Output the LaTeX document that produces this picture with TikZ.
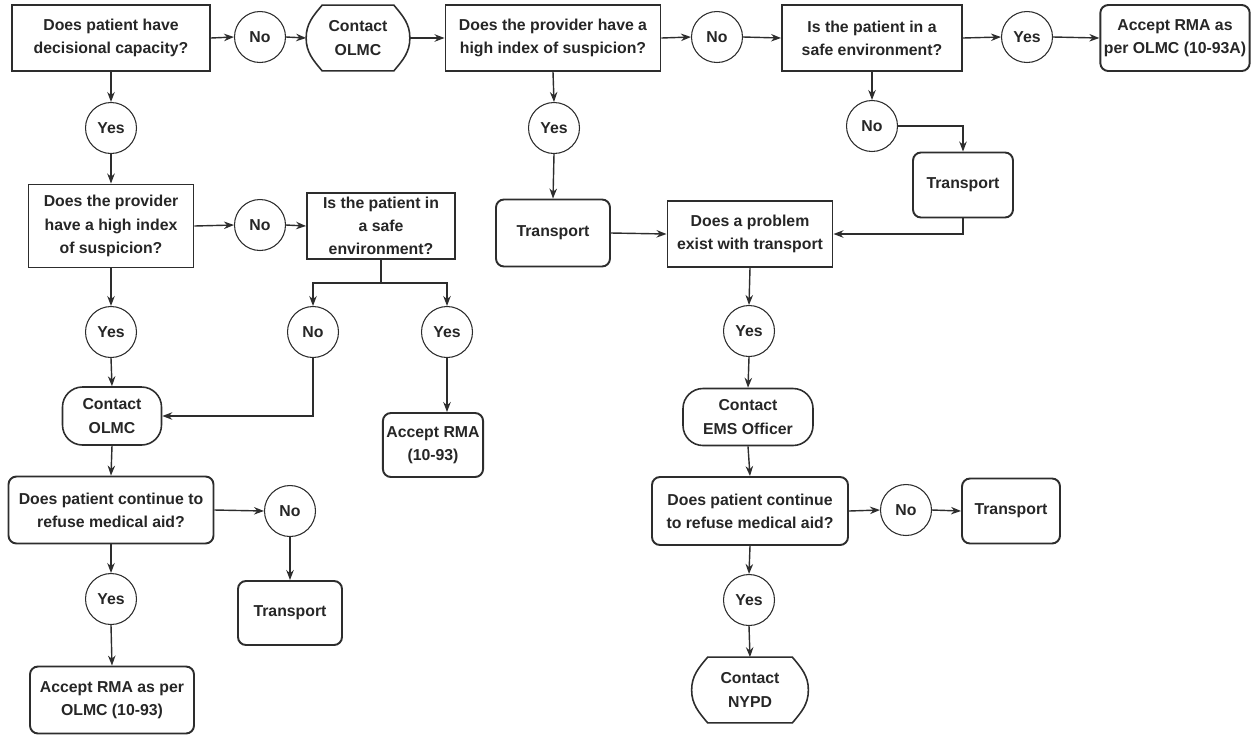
\documentclass[tikz,border=0pt]{standalone}
\usepackage{fontspec}
\setmainfont{Liberation Sans}
\usepackage{xcolor}
\usepackage{tikz}
\usetikzlibrary{arrows.meta}
\definecolor{inkgray}{RGB}{45,45,45}

% side-curved box (drawn round a borderless node)
\newcommand{\curvybox}[1]{%
  \draw [line width=0.9pt, inkgray]
    ([xshift=0.32cm]#1.north west) -- ([xshift=-0.32cm]#1.north east)
    to[out=-50, in=90] (#1.east)
    to[out=-90, in=50] ([xshift=-0.32cm]#1.south east)
    -- ([xshift=0.32cm]#1.south west)
    to[out=130, in=-90] (#1.west)
    to[out=90, in=-130] ([xshift=0.32cm]#1.north west) -- cycle;}

\begin{document}
\begin{tikzpicture}[x=0.02cm, y=-0.02cm,
    every node/.style={font=\bfseries\fontsize{9}{13.2}\selectfont, text=black!85, inner sep=2pt},
    wh/.style 2 args={minimum width=#1*0.02cm, minimum height=#2*0.02cm},
    box/.style={rectangle, draw=inkgray, line width=1.1pt, align=center},
    rbox/.style={box, rounded corners=0.16cm},
    pill/.style={box, line width=0.9pt, rounded corners=0.4cm},
    curvy/.style={rectangle, align=center},
    dot/.style={circle, draw=inkgray, line width=0.6pt, minimum size=1.02cm, inner sep=0pt},
    arrow/.style={line width=0.8pt, draw=inkgray, -{Stealth[length=2mm, width=1.5mm]}}]

\useasboundingbox (0,0) rectangle (1257,735);

% Top row
\node (q1)    [box, wh={198}{66}] at (111,38)  {Does patient have\\decisional capacity?};
\node (no1)   [dot]               at (260,37)  {No};
\node (olmc1) [curvy, wh={103}{65}] at (358,38) {Contact\\OLMC};
\node (q2)    [box, wh={215}{66}] at (553,38)  {Does the provider have a\\high index of suspicion?};
\node (no2)   [dot]               at (717,37)  {No};
\node (q3)    [box, wh={180}{66}] at (872,38)  {Is the patient in a\\safe environment?};
\node (yes3)  [dot]               at (1027,37) {Yes};
\node (acc3)  [rbox, wh={145}{66}] at (1175,38) {Accept RMA as\\per OLMC (10-93A)};

% Left branch
\node (yes1)  [dot]               at (111,128) {Yes};
\node (q4)    [box, wh={165}{83}] at (111,226) {Does the provider\\have a high index\\of suspicion?};
\node (no4)   [dot]               at (260,225) {No};
\node (q5)    [box, wh={148}{66}] at (381,226) {Is the patient in\\a safe\\environment?};
\coordinate (split) at (381,283);
\node (no5)   [dot]               at (313,332) {No};
\node (yes5)  [dot]               at (447,332) {Yes};
\node (acc5)  [rbox, wh={86}{64}] at (433,445) {Accept RMA\\(10-93)};
\node (yes4)  [dot]               at (111,332) {Yes};
\node (olmc2) [pill, wh={99}{58}] at (112,416) {Contact\\OLMC};
\node (q6)    [rbox, wh={205}{67}] at (111,510) {Does patient continue to\\refuse medical aid?};
\node (no6)   [dot]               at (290,511) {No};
\node (tr6)   [rbox, wh={104}{64}] at (290,613) {Transport};
\node (yes6)  [dot]               at (111,599) {Yes};
\node (acc6)  [rbox, wh={164}{67}] at (112,700) {Accept RMA as per\\OLMC (10-93)};

% Middle and right branch
\node (yes2)  [dot]               at (554,128) {Yes};
\node (tr2)   [rbox, wh={114}{67}] at (553,233) {Transport};
\node (q7)    [box, wh={165}{66}] at (750,234) {Does a problem\\exist with transport};
\node (no3)   [dot]               at (872,126) {No};
\node (tr3)   [rbox, wh={100}{65}] at (963,185) {Transport};
\node (yes7)  [dot]               at (749,331) {Yes};
\node (ems)   [pill, wh={130}{57}] at (748,417) {Contact\\EMS Officer};
\node (q8)    [rbox, wh={196}{68}] at (750,511) {Does patient continue\\to refuse medical aid?};
\node (no8)   [dot]               at (906,510) {No};
\node (tr8)   [rbox, wh={98}{65}] at (1011,511) {Transport};
\node (yes8)  [dot]               at (749,600) {Yes};
\node (nypd)  [curvy, wh={116}{65}] at (750,690) {Contact\\NYPD};

\curvybox{olmc1}
\curvybox{nypd}

% Arrows -- top row
\draw [arrow] (q1.east)   -- (no1.west);
\draw [arrow] (no1.east)  -- (olmc1.west);
\draw [arrow] (olmc1.east)-- (q2.west);
\draw [arrow] (q2.east)   -- (no2.west);
\draw [arrow] (no2.east)  -- (q3.west);
\draw [arrow] (q3.east)   -- (yes3.west);
\draw [arrow] (yes3.east) -- (acc3.west);
% Left branch
\draw [arrow] (q1.south)  -- (yes1.north);
\draw [arrow] (yes1.south)-- (q4.north);
\draw [arrow] (q4.east)   -- (no4.west);
\draw [arrow] (no4.east)  -- (q5.west);
\draw [line width=0.8pt, draw=inkgray] (q5.south) -- (split);
\draw [arrow] (split) -| (no5.north);
\draw [arrow] (split) -| (yes5.north);
\draw [arrow] (yes5.south) -- (yes5 |- acc5.north);
\draw [arrow] (no5.south) |- (olmc2.east);
\draw [arrow] (q4.south)  -- (yes4.north);
\draw [arrow] (yes4.south)-- (olmc2.north);
\draw [arrow] (olmc2.south) -- (q6.north);
\draw [arrow] (q6.east)   -- (no6.west);
\draw [arrow] (no6.south) -- (tr6.north);
\draw [arrow] (q6.south)  -- (yes6.north);
\draw [arrow] (yes6.south)-- (acc6.north);
% Middle and right branch
\draw [arrow] (q2.south)  -- (yes2.north);
\draw [arrow] (yes2.south)-- (tr2.north);
\draw [arrow] (tr2.east)  -- (q7.west);
\draw [arrow] (q3.south)  -- (no3.north);
\draw [arrow] (no3.east) -| (tr3.north);
\draw [arrow] (tr3.south) |- (q7.east);
\draw [arrow] (q7.south)  -- (yes7.north);
\draw [arrow] (yes7.south)-- (ems.north);
\draw [arrow] (ems.south) -- (q8.north);
\draw [arrow] (q8.east)   -- (no8.west);
\draw [arrow] (no8.east)  -- (tr8.west);
\draw [arrow] (q8.south)  -- (yes8.north);
\draw [arrow] (yes8.south)-- (nypd.north);
\end{tikzpicture}
\end{document}
